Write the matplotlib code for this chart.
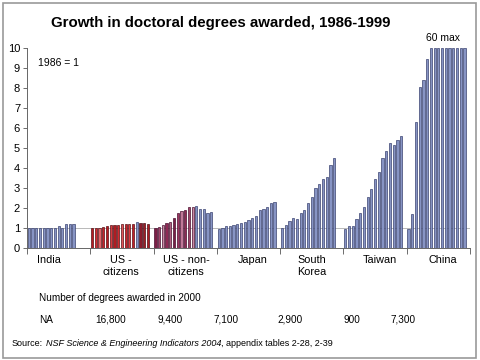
import matplotlib.pyplot as plt
from matplotlib.patches import Rectangle

plt.rcParams['font.family'] = ['Liberation Sans', 'DejaVu Sans']

# growth index, 1986 = 1
groups = ["India", "US -\ncitizens", "US - non-\ncitizens", "Japan", "South\nKorea", "Taiwan", "China"]
india = [1.0, 1.02, 1.02, 1.02, 1.02, 1.02, 1.0, 0.98, 1.12, 1.0, 1.22, 1.18, 1.18]
us_cit = [1.0, 1.0, 1.02, 1.05, 1.1, 1.15, 1.15, 1.17, 1.18, 1.2, 1.22, 1.22, 1.28, 1.25, 1.25, 1.2]
us_noncit = [1.0, 1.05, 1.15, 1.25, 1.3, 1.5, 1.75, 1.87, 1.9, 2.07, 2.07, 2.1, 1.93, 1.93, 1.75, 1.8]
japan = [0.97, 1.02, 1.08, 1.08, 1.13, 1.18, 1.23, 1.3, 1.4, 1.52, 1.62, 1.9, 1.93, 2.07, 2.25, 2.32]
korea = [0.98, 1.15, 1.35, 1.52, 1.45, 1.73, 1.9, 2.23, 2.57, 2.98, 3.2, 3.43, 3.57, 4.15, 4.52]
taiwan = [0.95, 1.1, 1.1, 1.45, 1.73, 2.07, 2.57, 2.93, 3.43, 3.78, 4.48, 4.85, 5.23, 5.15, 5.4, 5.6]
china = [0.97, 1.68, 6.28, 8.04, 8.41, 9.43, 10, 10, 10, 10, 10, 10, 10, 10, 10, 10]
series = [india, us_cit, us_noncit, japan, korea, taiwan, china]

deg_2000 = ["NA", "16,800", "9,400", "7,100", "2,900", "900", "7,300"]

# colours
blue = '#8794c4'
edge = '#3a4270'
cit_cols = ['#b51c22', '#d42a30', '#e0666b', '#c8222a', '#b81a20', '#d83a40', '#b01c22',
            '#d42a30', '#e0555a', '#c8222a', '#d83a40', '#c02228', blue, '#8a1c2c', '#9e1c24', '#b01c22']
noncit_cols = ['#7b1f45', '#a0456a', '#c88aa5', '#8e2a55', '#b06080', '#7b1f45', '#9c3560',
               '#c07898', '#8e2a55', '#a0456a', '#c88aa5', blue, blue, blue, blue, blue]
cit_edge = ['#5a1015']*12 + [edge] + ['#4a1018']*3
noncit_edge = ['#4a1030']*11 + [edge]*5

slots = 17
fig = plt.figure(figsize=(4.8, 3.6), dpi=100)
ax = fig.add_axes([27/480, 1-248/360, 443/480, 200/360])

for g, vals in enumerate(series):
    xs = [g*slots + i + 0.5 for i in range(len(vals))]
    if g == 1:
        cols, eds = cit_cols, cit_edge
    elif g == 2:
        cols, eds = noncit_cols, noncit_edge
    else:
        cols, eds = [blue]*len(vals), [edge]*len(vals)
    ax.bar(xs, vals, width=0.6, color=cols, edgecolor=eds, linewidth=0.5, zorder=3)

ax.axhline(1, color='#b8b8b8', lw=0.7, zorder=1)
ax.set_xlim(0, slots*7)
ax.set_ylim(0, 10)
ax.set_yticks(range(11))
ax.set_xticks([g*slots for g in range(8)])
ax.set_xticklabels([])
ax.tick_params(axis='y', labelsize=8, length=3, width=0.6, colors='#555555', labelcolor='black', pad=2)
ax.tick_params(axis='x', length=4, width=0.6, colors='#555555')
for s in ['top', 'right']:
    ax.spines[s].set_visible(False)
for s in ['left', 'bottom']:
    ax.spines[s].set_color('#666666')
    ax.spines[s].set_linewidth(0.7)

def px(x, y):
    return x/480, 1-y/360

# group labels under axis
lab_x = [49, 121, 186, 253, 312, 380, 443]
for x, lab in zip(lab_x, groups):
    fig.text(*px(x, 255), lab, ha='center', va='top', fontsize=7.8, linespacing=1.2)

fig.text(*px(221, 23), "Growth in doctoral degrees awarded, 1986-1999", ha='center', va='center',
         fontsize=10.8, fontweight='bold')
fig.text(*px(443, 38), "60 max", ha='center', va='center', fontsize=7.5)
fig.text(*px(38, 63), "1986 = 1", ha='left', va='center', fontsize=7.5)
fig.text(*px(39, 298), "Number of degrees awarded in 2000", ha='left', va='center', fontsize=7.2)
num_x = [39, 95, 158, 214, 277, 344, 391]
for x, n in zip(num_x, deg_2000):
    fig.text(*px(x, 320), n, ha='left', va='center', fontsize=7.2)

# source line, pieces placed one after another
r = fig.canvas.get_renderer()
x0 = 12
for s, st in [("Source:", 'normal'), ("NSF Science & Engineering Indicators 2004", 'italic'),
              (", appendix tables 2-28, 2-39", 'normal')]:
    t = fig.text(*px(x0, 343), s, ha='left', va='center', fontsize=6.5, style=st)
    x0 += t.get_window_extent(r).width + (2.5 if s == "Source:" else 0)

fig.patches.append(Rectangle((3/480, 2/360), 473/480, 355/360, transform=fig.transFigure,
                             fill=False, edgecolor='#999999', linewidth=1.2))

fig.savefig('out.png', dpi=100)
